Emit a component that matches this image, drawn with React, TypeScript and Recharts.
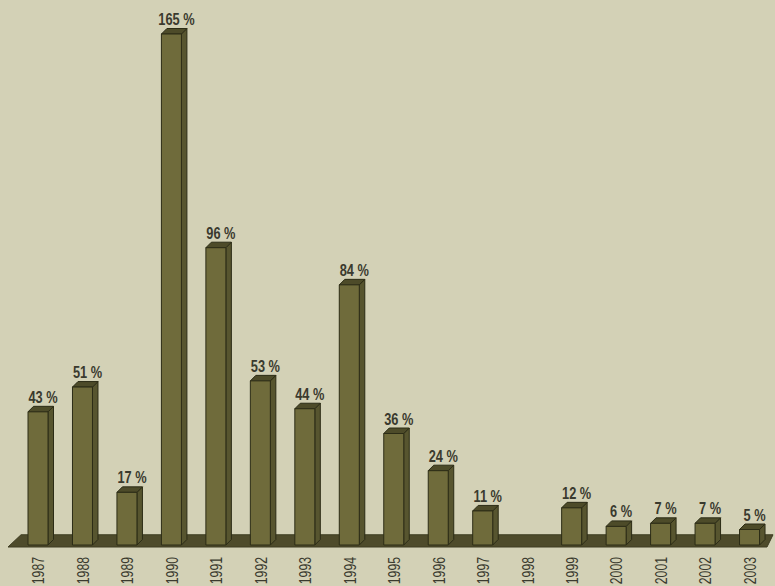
import React from 'react';
import { BarChart, Bar, XAxis, YAxis, LabelList, ReferenceArea } from 'recharts';

const years = ['1987','1988','1989','1990','1991','1992','1993','1994','1995','1996','1997','1998','1999','2000','2001','2002','2003'];
const values: (number | null)[] = [43, 51, 17, 165, 96, 53, 44, 84, 36, 24, 11, null, 12, 6, 7, 7, 5];

const data = years.map((y, i) => ({ year: y, value: values[i] }));

const BG = '#d3d1b6';
const FRONT = '#6f6b3b';
const SIDE = '#57552f';
const TOP = '#4d4b29';
const FLOOR = '#4e4b2b';
const STROKE = '#2c2c16';
const TEXT = '#3a3a2e';
const FONT = '"Liberation Sans", Arial, sans-serif';
const D = 5.5;

const Bar3D = (props: any) => {
  const { x, y, width, height } = props;
  if (height == null || height <= 0 || x == null) return null;
  const w = width;
  const h = height;
  return (
    <g stroke={STROKE} strokeWidth={1} strokeLinejoin="round">
      <path d={`M${x + w},${y + h} L${x + w + D},${y + h - D} L${x + w + D},${y - D} L${x + w},${y} Z`} fill={SIDE} />
      <path d={`M${x},${y} L${x + D},${y - D} L${x + w + D},${y - D} L${x + w},${y} Z`} fill={TOP} />
      <rect x={x} y={y} width={w} height={h} fill={FRONT} />
    </g>
  );
};

const Floor = (props: any) => {
  const { x, y, width, height } = props;
  const bottom = y + height + 2;
  const top = y;
  return (
    <path
      d={`M${x - 8},${bottom} L${x + width - 5},${bottom} L${x + width + 1},${top} L${x + 5},${top} Z`}
      fill={FLOOR}
      stroke="#3e3c22"
      strokeWidth={1}
    />
  );
};

const ValueLabel = (props: any) => {
  const { x, y, width, value } = props;
  if (value == null) return null;
  const cx = x + width / 2 + 5;
  const cy = y - 9;
  return (
    <text
      x={0}
      y={0}
      transform={`translate(${cx} ${cy}) scale(0.8 1)`}
      textAnchor="middle"
      fontFamily={FONT}
      fontWeight="bold"
      fontSize={16}
      fill={TEXT}
    >
      {`${value} %`}
    </text>
  );
};

const YearTick = (props: any) => {
  const { x, payload } = props;
  const px = x + 6.1;
  const py = 557;
  return (
    <text
      x={0}
      y={0}
      transform={`translate(${px} ${py}) rotate(-90) scale(0.72 1)`}
      textAnchor="end"
      fontFamily={FONT}
      fontSize={17}
      fill={TEXT}
    >
      {payload.value}
    </text>
  );
};

export default function App() {
  return (
    <div style={{ position: 'absolute', left: 0, top: 0, width: 775, height: 586, background: BG, overflow: 'hidden' }}>
      <BarChart width={775} height={586} data={data} margin={{ top: 34, right: 3, bottom: 0, left: 16 }} barCategoryGap={0}>
        <YAxis hide domain={[0, 165]} />
        <XAxis dataKey="year" axisLine={false} tickLine={false} interval={0} height={41} tick={<YearTick />} />
        <ReferenceArea y1={0} y2={3.3} shape={<Floor />} fill={FLOOR} />
        <Bar dataKey="value" barSize={20} shape={<Bar3D />} isAnimationActive={false}>
          <LabelList dataKey="value" content={<ValueLabel />} />
        </Bar>
      </BarChart>
    </div>
  );
}
